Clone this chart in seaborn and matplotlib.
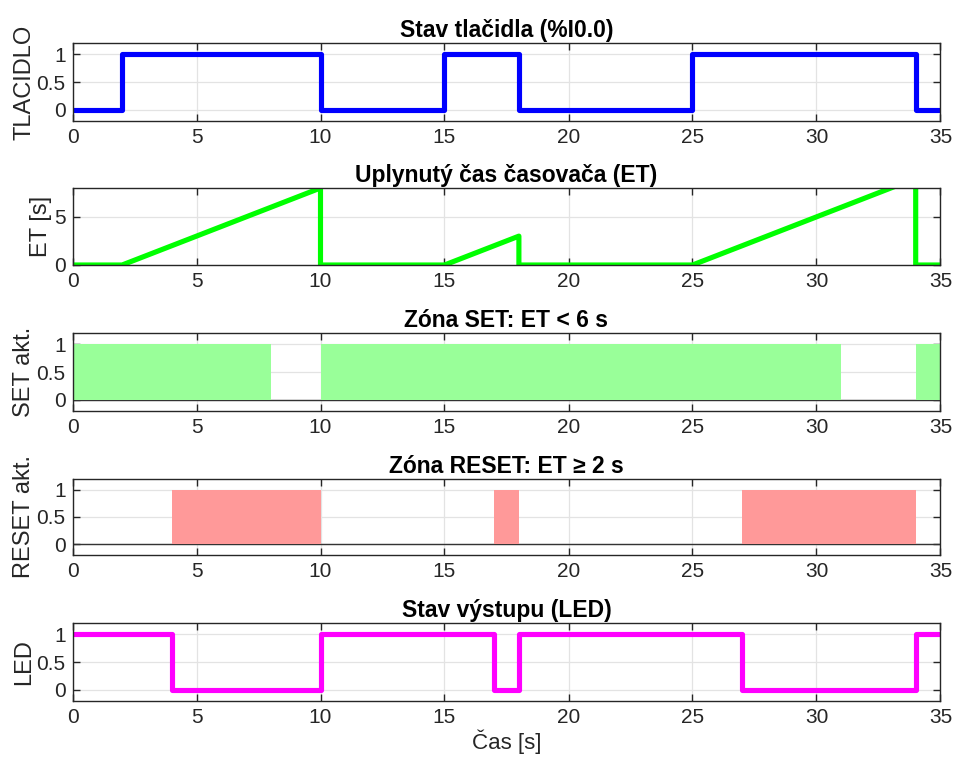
import numpy as np
import pandas as pd
import matplotlib
matplotlib.use("Agg")
import matplotlib.pyplot as plt
import seaborn as sns

# Push-button input (step signal, value holds until next breakpoint)
btn_t = [0, 2, 10, 15, 18, 25, 34, 35]
btn_v = [0, 1, 0, 1, 0, 1, 0, 0]

# Timer elapsed time (piecewise linear breakpoints)
et_t = [0, 2, 10, 10, 15, 18, 18, 25, 34, 34, 35]
et_v = [0, 0, 8, 0, 0, 3, 0, 0, 9, 0, 0]

# SET zone active (ET < 6 s)
set_t = [0, 8, 10, 31, 34, 35]
set_v = [1, 0, 1, 0, 1, 1]

# RESET zone active (ET >= 2 s)
rst_t = [0, 4, 10, 17, 18, 27, 34, 35]
rst_v = [0, 1, 0, 1, 0, 1, 0, 0]

# LED output
led_t = [0, 4, 10, 17, 18, 27, 34, 35]
led_v = [1, 0, 1, 0, 1, 0, 1, 1]

titles = [
    "Stav tlačidla (%I0.0)",
    "Uplynutý čas časovača (ET)",
    "Zóna SET: ET < 6 s",
    "Zóna RESET: ET ≥ 2 s",
    "Stav výstupu (LED)",
]
ylabels = ["TLACIDLO", "ET [s]", "SET akt.", "RESET akt.", "LED"]

sns.set_theme(style="whitegrid")
plt.rcParams["font.family"] = ["Liberation Sans", "DejaVu Sans"]

fig = plt.figure(figsize=(9.54, 7.61), dpi=100)
W, H = 954, 761
left, right = 72.5, 940.5
tops = [43, 188, 333, 479, 623]
bottoms = [121, 265, 411, 555, 701]
axes = []
for t, b in zip(tops, bottoms):
    ax = fig.add_axes([left / W, 1 - b / H, (right - left) / W, (b - t) / H])
    axes.append(ax)

edge = "#262626"
LW = 3.7

def style(ax, title, ylabel, ylim, yticks):
    ax.set_xlim(0, 35)
    ax.set_ylim(*ylim)
    ax.set_xticks(range(0, 36, 5))
    ax.set_yticks(yticks)
    ax.set_yticklabels([("%g" % v) for v in yticks])
    ax.grid(True, color="#e3e3e3", linewidth=0.9)
    ax.set_axisbelow(True)
    for s in ax.spines.values():
        s.set_visible(True)
        s.set_color(edge)
        s.set_linewidth(1.0)
    ax.tick_params(axis="both", which="both", direction="in", length=5,
                   width=1.0, color=edge, labelcolor=edge, labelsize=15,
                   top=True, right=True, bottom=True, left=True, pad=5)
    ax.set_title(title, fontsize=16.5, fontweight="bold", color="black", pad=4)
    ax.set_ylabel(ylabel, fontsize=17, color=edge, labelpad=1)
    ax.set_xlabel("")

# 1) push-button
df_btn = pd.DataFrame({"t": btn_t, "v": btn_v})
sns.lineplot(data=df_btn, x="t", y="v", ax=axes[0], color="#0000ff",
             linewidth=LW, drawstyle="steps-post", estimator=None, sort=False)
style(axes[0], titles[0], ylabels[0], (-0.2, 1.2), [0, 0.5, 1])

# 2) elapsed time
df_et = pd.DataFrame({"t": et_t, "v": et_v})
sns.lineplot(data=df_et, x="t", y="v", ax=axes[1], color="#00ff00",
             linewidth=LW, estimator=None, sort=False)
style(axes[1], titles[1], ylabels[1], (0, 8), [0, 5])

# 3) SET zone
axes[2].fill_between(set_t, 0, set_v, step="post", color="#99ff99",
                     linewidth=0, zorder=2)
axes[2].axhline(0, color="#333333", linewidth=1.0, zorder=1)
style(axes[2], titles[2], ylabels[2], (-0.2, 1.2), [0, 0.5, 1])

# 4) RESET zone
axes[3].fill_between(rst_t, 0, rst_v, step="post", color="#ff9999",
                     linewidth=0, zorder=2)
axes[3].axhline(0, color="#333333", linewidth=1.0, zorder=1)
style(axes[3], titles[3], ylabels[3], (-0.2, 1.2), [0, 0.5, 1])

# 5) LED output
df_led = pd.DataFrame({"t": led_t, "v": led_v})
sns.lineplot(data=df_led, x="t", y="v", ax=axes[4], color="#ff00ff",
             linewidth=LW, drawstyle="steps-post", estimator=None, sort=False)
style(axes[4], titles[4], ylabels[4], (-0.2, 1.2), [0, 0.5, 1])
axes[4].set_xlabel("Čas [s]", fontsize=16, color=edge, labelpad=2)

fig.savefig("out.png", dpi=100, facecolor="white")
